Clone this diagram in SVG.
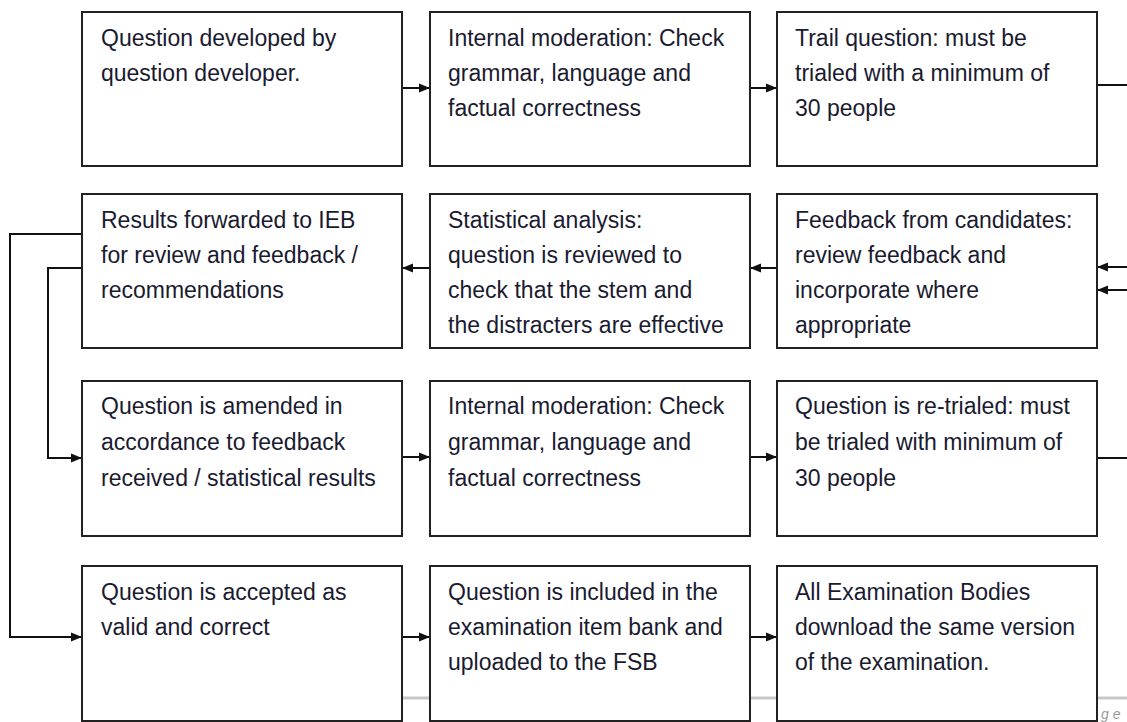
<svg xmlns="http://www.w3.org/2000/svg" width="1127" height="722" viewBox="0 0 1127 722">
<style>
.box{fill:#fff;stroke:#222;stroke-width:2}
.t{font-family:"Liberation Sans",Arial,sans-serif;font-size:23px;fill:#1a1a30}
.c{fill:none;stroke:#111;stroke-width:2}
.pg{font-family:"Liberation Sans",Arial,sans-serif;font-size:14px;font-style:italic;fill:#999}
</style>
<defs>
<marker id="ah" viewBox="0 0 11 10" refX="11" refY="5" markerWidth="11" markerHeight="10" markerUnits="userSpaceOnUse" orient="auto">
<path d="M0,0.5 L11,5 L0,9.5 Z" fill="#111"/>
</marker>
</defs>
<rect width="1127" height="722" fill="#fff"/>
<line x1="230" y1="698" x2="1127" y2="698" stroke="#c8c8c8" stroke-width="3"/>
<text class="pg" x="1101" y="719">g e</text>
<g id="connectors">
<line class="c" x1="402" y1="88" x2="430" y2="88" marker-end="url(#ah)"/>
<line class="c" x1="750" y1="88" x2="777" y2="88" marker-end="url(#ah)"/>
<line class="c" x1="1097" y1="85" x2="1127" y2="85"/>
<line class="c" x1="1127" y1="267" x2="1097" y2="267" marker-end="url(#ah)"/>
<line class="c" x1="1127" y1="290" x2="1097" y2="290" marker-end="url(#ah)"/>
<line class="c" x1="777" y1="268" x2="750" y2="268" marker-end="url(#ah)"/>
<line class="c" x1="430" y1="268" x2="402" y2="268" marker-end="url(#ah)"/>
<polyline class="c" points="82,234 10,234 10,637 82,637" marker-end="url(#ah)"/>
<polyline class="c" points="82,268 48,268 48,458 82,458" marker-end="url(#ah)"/>
<line class="c" x1="402" y1="457" x2="430" y2="457" marker-end="url(#ah)"/>
<line class="c" x1="750" y1="457" x2="777" y2="457" marker-end="url(#ah)"/>
<line class="c" x1="1097" y1="458" x2="1127" y2="458"/>
<line class="c" x1="402" y1="637" x2="430" y2="637" marker-end="url(#ah)"/>
<line class="c" x1="750" y1="637" x2="777" y2="637" marker-end="url(#ah)"/>
</g>
<g id="n1"><rect class="box" x="82" y="12" width="320" height="154"/>
<text class="t" x="101" y="46">Question developed by</text>
<text class="t" x="101" y="81">question developer.</text></g>
<g id="n2"><rect class="box" x="430" y="12" width="320" height="154"/>
<text class="t" x="448" y="46">Internal moderation: Check</text>
<text class="t" x="448" y="81">grammar, language and</text>
<text class="t" x="448" y="116">factual correctness</text></g>
<g id="n3"><rect class="box" x="777" y="12" width="320" height="154"/>
<text class="t" x="795" y="46">Trail question: must be</text>
<text class="t" x="795" y="81">trialed with a minimum of</text>
<text class="t" x="795" y="116">30 people</text></g>
<g id="n4"><rect class="box" x="82" y="194" width="320" height="154"/>
<text class="t" x="101" y="228">Results forwarded to IEB</text>
<text class="t" x="101" y="263">for review and feedback /</text>
<text class="t" x="101" y="298">recommendations</text></g>
<g id="n5"><rect class="box" x="430" y="194" width="320" height="154"/>
<text class="t" x="448" y="228">Statistical analysis:</text>
<text class="t" x="448" y="263">question is reviewed to</text>
<text class="t" x="448" y="298">check that the stem and</text>
<text class="t" x="448" y="333">the distracters are effective</text></g>
<g id="n6"><rect class="box" x="777" y="194" width="320" height="154"/>
<text class="t" x="795" y="228">Feedback from candidates:</text>
<text class="t" x="795" y="263">review feedback and</text>
<text class="t" x="795" y="298">incorporate where</text>
<text class="t" x="795" y="333">appropriate</text></g>
<g id="n7"><rect class="box" x="82" y="381" width="320" height="155"/>
<text class="t" x="101" y="414">Question is amended in</text>
<text class="t" x="101" y="450">accordance to feedback</text>
<text class="t" x="101" y="486">received / statistical results</text></g>
<g id="n8"><rect class="box" x="430" y="381" width="320" height="155"/>
<text class="t" x="448" y="414">Internal moderation: Check</text>
<text class="t" x="448" y="450">grammar, language and</text>
<text class="t" x="448" y="486">factual correctness</text></g>
<g id="n9"><rect class="box" x="777" y="381" width="320" height="155"/>
<text class="t" x="795" y="414">Question is re-trialed: must</text>
<text class="t" x="795" y="450">be trialed with minimum of</text>
<text class="t" x="795" y="486">30 people</text></g>
<g id="n10"><rect class="box" x="82" y="566" width="320" height="155"/>
<text class="t" x="101" y="600">Question is accepted as</text>
<text class="t" x="101" y="635">valid and correct</text></g>
<g id="n11"><rect class="box" x="430" y="566" width="320" height="155"/>
<text class="t" x="448" y="600">Question is included in the</text>
<text class="t" x="448" y="635">examination item bank and</text>
<text class="t" x="448" y="670">uploaded to the FSB</text></g>
<g id="n12"><rect class="box" x="777" y="566" width="320" height="155"/>
<text class="t" x="795" y="600">All Examination Bodies</text>
<text class="t" x="795" y="635">download the same version</text>
<text class="t" x="795" y="670">of the examination.</text></g>
</svg>
